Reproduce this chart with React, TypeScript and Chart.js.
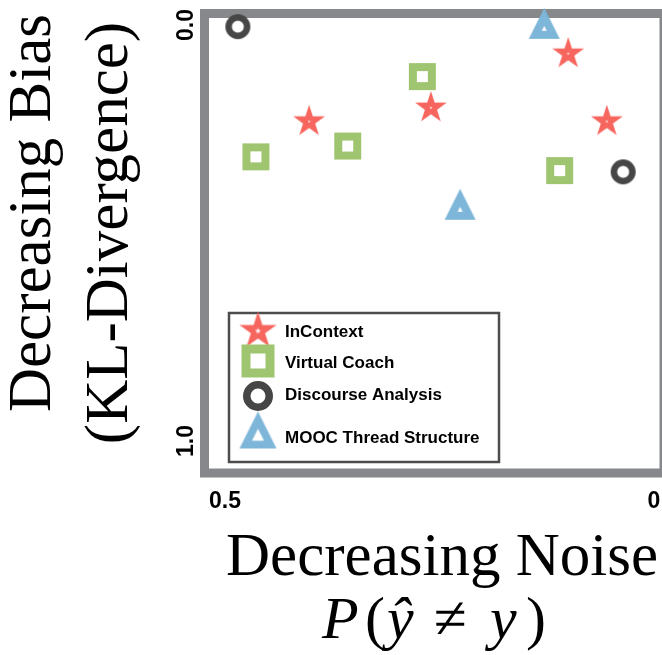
import React, { useEffect, useRef } from "react";
import { Chart, registerables } from "chart.js";

Chart.register(...registerables);

// ---------------- data ----------------
const seriesNames = ["InContext", "Virtual Coach", "Discourse Analysis", "MOOC Thread Structure"];

const inContextNoise = [0.402, 0.26, 0.1, 0.055];
const inContextBias = [0.232, 0.199, 0.069, 0.232];

const virtualCoachNoise = [0.464, 0.357, 0.27, 0.11];
const virtualCoachBias = [0.317, 0.291, 0.124, 0.35];

const discourseNoise = [0.485, 0.036];
const discourseBias = [0.004, 0.353];

const moocNoise = [0.128, 0.226];
const moocBias = [-0.004, 0.431];

const xTickValues = [0.5, 0];
const xTickLabels = ["0.5", "0"];
const yTickValues = [0, 1];
const yTickLabels = ["0.0", "1.0"];

const xTitleLine1 = "Decreasing Noise";
const yTitleLines = ["Decreasing Bias", "(KL-Divergence)"];

// ---------------- styles ----------------
const RED = "#f7665e";
const GREEN = "#a0c571";
const DARK = "#464646";
const BLUE = "#7db6d8";
const FRAME = "#86888b";

function mkCanvas(size: number) {
  const c = document.createElement("canvas");
  c.width = size;
  c.height = size;
  return c;
}

function starPath(ctx: CanvasRenderingContext2D, cx: number, cy: number, r: number) {
  ctx.beginPath();
  for (let i = 0; i < 10; i++) {
    const a = -Math.PI / 2 + (i * Math.PI) / 5;
    const rr = i % 2 === 0 ? r : r * 0.382;
    const x = cx + rr * Math.cos(a);
    const y = cy + rr * Math.sin(a);
    if (i === 0) ctx.moveTo(x, y);
    else ctx.lineTo(x, y);
  }
  ctx.closePath();
}

function makeStar(r: number, dot: number, color: string) {
  const size = Math.ceil(2 * r + 4);
  const c = mkCanvas(size);
  const ctx = c.getContext("2d")!;
  const m = size / 2;
  ctx.fillStyle = color;
  starPath(ctx, m, m, r);
  ctx.fill();
  ctx.fillStyle = "#ffffff";
  starPath(ctx, m, m, dot);
  ctx.fill();
  return c;
}

function makeSquare(outer: number, hole: number, color: string) {
  const size = Math.ceil(outer + 4);
  const c = mkCanvas(size);
  const ctx = c.getContext("2d")!;
  const m = size / 2;
  ctx.fillStyle = color;
  ctx.fillRect(m - outer / 2, m - outer / 2, outer, outer);
  ctx.fillStyle = "#ffffff";
  ctx.fillRect(m - hole / 2, m - hole / 2, hole, hole);
  return c;
}

function makeRing(outer: number, hole: number, color: string) {
  const size = Math.ceil(outer + 4);
  const c = mkCanvas(size);
  const ctx = c.getContext("2d")!;
  const m = size / 2;
  ctx.strokeStyle = color;
  ctx.lineWidth = (outer - hole) / 2;
  ctx.beginPath();
  ctx.arc(m, m, (outer + hole) / 4, 0, Math.PI * 2);
  ctx.stroke();
  return c;
}

function makeTriangle(w: number, h: number, holeW: number, color: string) {
  const size = Math.ceil(Math.max(w, h) + 4);
  const c = mkCanvas(size);
  const ctx = c.getContext("2d")!;
  const m = size / 2;
  const A = [m, m - h / 2];
  const B = [m - w / 2, m + h / 2];
  const C = [m + w / 2, m + h / 2];
  const a = Math.hypot(B[0] - C[0], B[1] - C[1]);
  const b = Math.hypot(A[0] - C[0], A[1] - C[1]);
  const cc = Math.hypot(A[0] - B[0], A[1] - B[1]);
  const p = a + b + cc;
  const I = [(a * A[0] + b * B[0] + cc * C[0]) / p, (a * A[1] + b * B[1] + cc * C[1]) / p];
  const k = holeW / w;
  const tri = (pts: number[][]) => {
    ctx.beginPath();
    ctx.moveTo(pts[0][0], pts[0][1]);
    ctx.lineTo(pts[1][0], pts[1][1]);
    ctx.lineTo(pts[2][0], pts[2][1]);
    ctx.closePath();
    ctx.fill();
  };
  ctx.fillStyle = color;
  tri([A, B, C]);
  ctx.fillStyle = "#ffffff";
  const sc = (P: number[]) => [I[0] + (P[0] - I[0]) * k, I[1] + (P[1] - I[1]) * k];
  tri([sc(A), sc(B), sc(C)]);
  return c;
}

function pts(xs: number[], ys: number[]) {
  return xs.map((x, i) => ({ x, y: ys[i] }));
}

export default function App() {
  const ref = useRef<HTMLCanvasElement | null>(null);

  useEffect(() => {
    const canvas = ref.current;
    if (!canvas) return;

    const plotMarkers = [
      makeStar(16.7, 1.6, RED),
      makeSquare(27, 11, GREEN),
      makeRing(25, 12, DARK),
      makeTriangle(31, 31, 5, BLUE),
    ];
    const legendMarkers = [
      makeStar(19.5, 3.2, RED),
      makeSquare(33, 15, GREEN),
      makeRing(30, 15, DARK),
      makeTriangle(37, 37, 12, BLUE),
    ];

    const framePlugin = {
      id: "frame",
      beforeDatasetsDraw(chart: any) {
        const { ctx, chartArea: a } = chart;
        ctx.save();
        ctx.strokeStyle = FRAME;
        ctx.lineWidth = 9;
        ctx.strokeRect(a.left - 0.5, a.top - 0.5, a.right + 2 - (a.left - 0.5), a.bottom - (a.top - 0.5));
        ctx.restore();
      },
    };

    const textPlugin = {
      id: "texts",
      afterDraw(chart: any) {
        const { ctx, chartArea: a } = chart;
        const xs = chart.scales.x;
        const ys = chart.scales.y;
        ctx.save();
        ctx.fillStyle = "#000000";
        // tick labels
        ctx.font = "bold 23px 'Liberation Sans', Arial, sans-serif";
        ctx.textAlign = "center";
        ctx.textBaseline = "alphabetic";
        xs.ticks.forEach((t: any) => {
          const idx = xTickValues.indexOf(t.value);
          if (idx < 0) return;
          ctx.fillText(xTickLabels[idx], xs.getPixelForValue(t.value), a.bottom + 35);
        });
        ys.ticks.forEach((t: any) => {
          const idx = yTickValues.indexOf(t.value);
          if (idx < 0) return;
          ctx.save();
          ctx.translate(a.left - 12, ys.getPixelForValue(t.value));
          ctx.rotate(-Math.PI / 2);
          ctx.fillText(yTickLabels[idx], 0, 0);
          ctx.restore();
        });

        // y title
        ctx.font = "61px 'Liberation Serif', 'Times New Roman', serif";
        const yBase = [50, 127];
        const yCent = [213, 233];
        yTitleLines.forEach((line, i) => {
          ctx.save();
          ctx.translate(yBase[i], yCent[i]);
          ctx.rotate(-Math.PI / 2);
          ctx.fillText(line, 0, 0);
          ctx.restore();
        });

        // x title line 1
        ctx.fillText(xTitleLine1, 442, 575);

        // x title line 2: P(ŷ ≠ y)
        const it = "italic 60px 'Liberation Serif', 'Times New Roman', serif";
        const up = "60px 'Liberation Serif', 'Times New Roman', serif";
        const pieces: [string, string, number][] = [
          ["P", it, 322],
          ["(", up, 365],
          ["\u0177", it, 387],
          ["\u2260", up, 434],
          ["y", it, 490],
          [")", up, 526],
        ];
        ctx.textAlign = "left";
        pieces.forEach(([s, f, x]) => {
          ctx.font = f;
          ctx.fillText(s, x, 638);
        });
        ctx.restore();
      },
    };

    const legendPlugin = {
      id: "customLegend",
      afterDatasetsDraw(chart: any) {
        const { ctx } = chart;
        ctx.save();
        ctx.fillStyle = "#ffffff";
        ctx.fillRect(229, 313, 270, 149);
        ctx.strokeStyle = "#4d4d4d";
        ctx.lineWidth = 2.5;
        ctx.strokeRect(229, 313, 270, 149);
        const markerY = [331, 361, 396, 430];
        const textY = [337, 368, 400, 443];
        ctx.font = "bold 17px 'Liberation Sans', Arial, sans-serif";
        ctx.fillStyle = "#000000";
        ctx.textAlign = "left";
        ctx.textBaseline = "alphabetic";
        chart.data.datasets.forEach((ds: any, i: number) => {
          const m = legendMarkers[i];
          ctx.drawImage(m, 258 - m.width / 2, markerY[i] - m.height / 2);
          ctx.fillText(ds.label, 285, textY[i]);
        });
        ctx.restore();
      },
    };

    const chart = new Chart(canvas, {
      type: "scatter",
      data: {
        datasets: [
          { label: seriesNames[0], data: pts(inContextNoise, inContextBias), pointStyle: plotMarkers[0] as any, clip: false as any },
          { label: seriesNames[1], data: pts(virtualCoachNoise, virtualCoachBias), pointStyle: plotMarkers[1] as any, clip: false as any },
          { label: seriesNames[2], data: pts(discourseNoise, discourseBias), pointStyle: plotMarkers[2] as any, clip: false as any },
          { label: seriesNames[3], data: pts(moocNoise, moocBias), pointStyle: plotMarkers[3] as any, clip: false as any },
        ],
      },
      options: {
        animation: false,
        responsive: false,
        devicePixelRatio: 1,
        events: [],
        layout: { autoPadding: false, padding: { top: 14, left: 0, right: 0, bottom: 0 } },
        plugins: { legend: { display: false }, tooltip: { enabled: false }, title: { display: false } },
        elements: { point: { radius: 12 } },
        scales: {
          x: {
            type: "linear",
            reverse: true,
            min: -0.0093,
            max: 0.5233,
            grid: { display: false },
            border: { display: false },
            ticks: { display: false },
            afterFit: (s: any) => {
              s.height = 182;
            },
            afterBuildTicks: (s: any) => {
              s.ticks = xTickValues.map((v) => ({ value: v }));
            },
          },
          y: {
            type: "linear",
            reverse: true,
            min: -0.0264,
            max: 1.0769,
            grid: { display: false },
            border: { display: false },
            ticks: { display: false },
            afterFit: (s: any) => {
              s.width = 205;
            },
            afterBuildTicks: (s: any) => {
              s.ticks = yTickValues.map((v) => ({ value: v }));
            },
          },
        },
      },
      plugins: [framePlugin, legendPlugin, textPlugin],
    });

    return () => chart.destroy();
  }, []);

  return (
    <div style={{ position: "absolute", left: 0, top: 0, width: 662, height: 655, background: "#ffffff" }}>
      <canvas ref={ref} width={662} height={655} style={{ display: "block", width: 662, height: 655 }} />
    </div>
  );
}
